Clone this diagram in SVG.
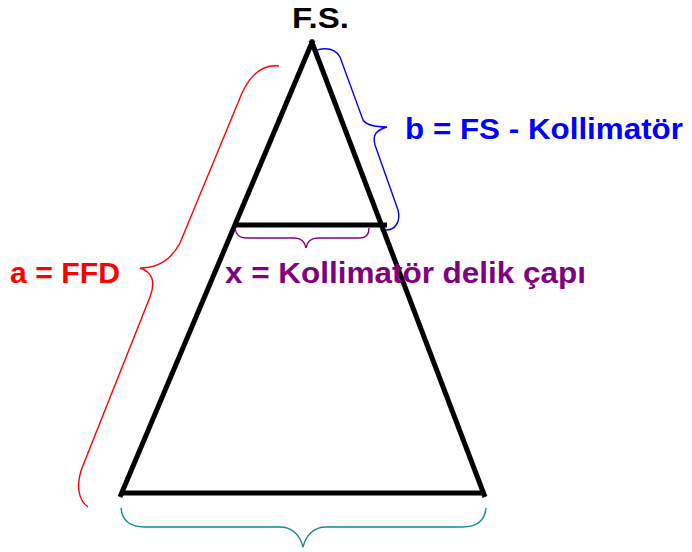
<svg xmlns="http://www.w3.org/2000/svg" width="692" height="552" viewBox="0 0 692 552">
<style>
.t{font-family:"Liberation Sans",Arial,sans-serif;font-weight:bold;font-size:30px}
.side{stroke:#000;stroke-width:5;fill:none;stroke-linecap:butt}
.br{fill:none;stroke-width:1.4}
</style>
<rect width="692" height="552" fill="#fff"/>
<g id="connectors">
<path id="triangle-left" class="side" d="M313 40 L120 497"/>
<path id="triangle-right" class="side" d="M311 40 L485 497"/>
<path id="base" class="side" d="M121 493 L484 493"/>
<path id="collimator" class="side" d="M234 225 L387 225"/>
</g>
<g id="brace-a">
<path class="br" stroke="#ff0000" d="M279 66 C262 64 250 76 242 93 L180 243 C170 262 155 268 140 268 C152 272 156 281 150 297 L82 468 C76 485 78 500 88 507"/>
<text class="t" fill="#ff0000" x="10" y="283" textLength="110" lengthAdjust="spacingAndGlyphs">a = FFD</text>
</g>
<g id="brace-b">
<path class="br" stroke="#0000ff" d="M317 50 C328 47 336 50 340 57 L363 120 C367 126 376 127 387 127 C377 130 372 134 375 145 L398 210 C401 222 395 230 386 230"/>
<text class="t" fill="#0000ff" x="405" y="139" textLength="278" lengthAdjust="spacingAndGlyphs">b = FS - Kollimatör</text>
</g>
<g id="brace-x">
<path class="br" stroke="#800080" d="M235 228 C236 235 239 238 246 238 L294 238 C301 238 305 242 306 248 C307 242 311 238 318 238 L360 238 C366 238 369 235 369 228"/>
<text class="t" fill="#800080" x="225" y="283" textLength="361" lengthAdjust="spacingAndGlyphs">x = Kollimatör delik çapı</text>
</g>
<g id="brace-base">
<path class="br" stroke="#138a8a" d="M121 508 C122 520 130 527 145 527 L280 527 C292 527 300 535 303 547 C306 535 314 527 326 527 L462 527 C477 527 485 520 486 508"/>
</g>
<g id="fs">
<text class="t" fill="#000" x="292" y="28" textLength="57" lengthAdjust="spacingAndGlyphs">F.S.</text>
</g>
</svg>
